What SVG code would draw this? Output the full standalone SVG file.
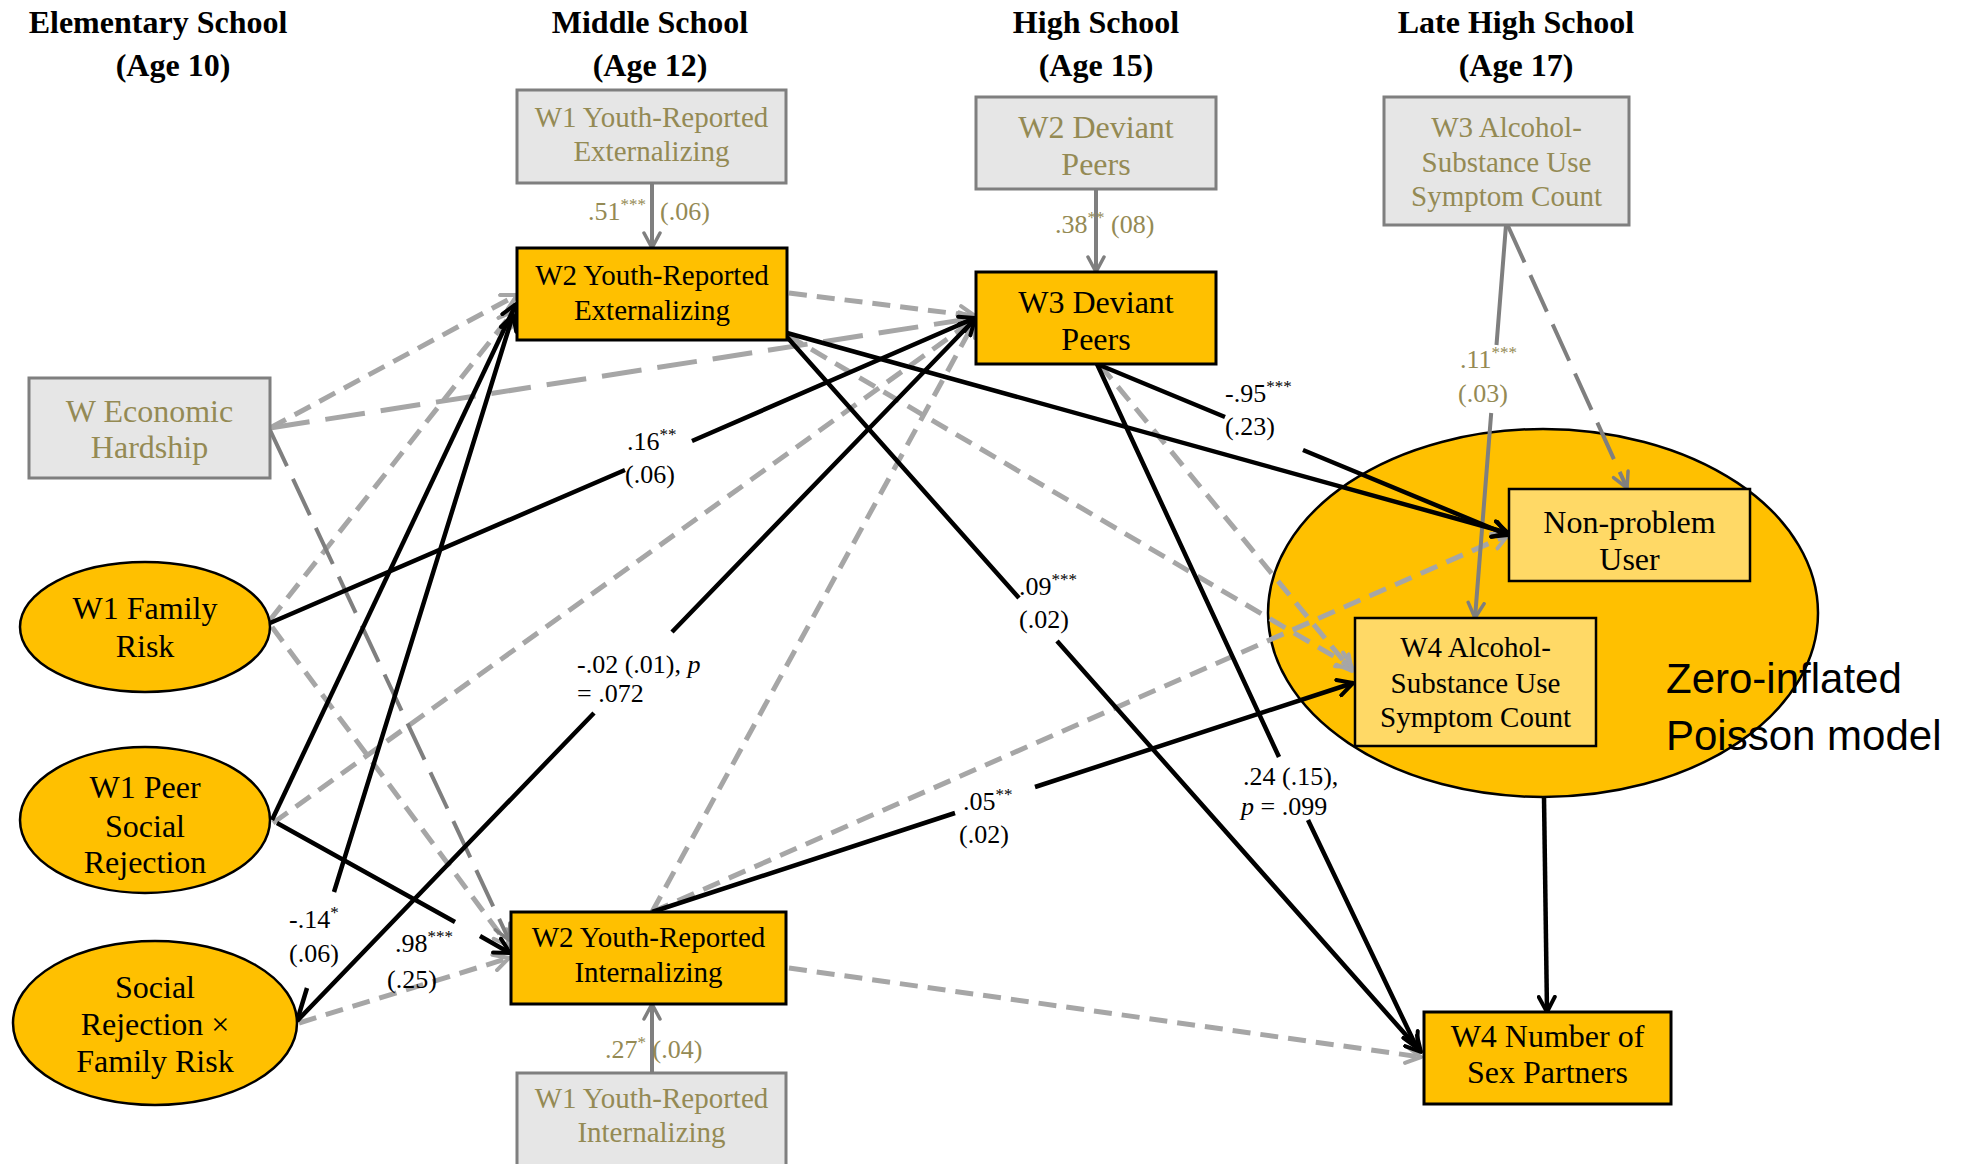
<svg xmlns="http://www.w3.org/2000/svg" width="1967" height="1164" viewBox="0 0 1967 1164">
  <style>
    .hdr{font-family:"Liberation Serif","Times New Roman",serif;font-weight:bold;font-size:32px;text-anchor:middle;fill:#000}
    .nt{font-family:"Liberation Serif","Times New Roman",serif;font-size:29px;text-anchor:middle;fill:#000}
    .nt.lg{font-size:32px}
    .nt.olive{fill:#948a54}
    .lb{font-family:"Liberation Serif","Times New Roman",serif;font-size:26px;fill:#000}
    .lb.olive{fill:#948a54}
    .sup{font-size:17px}
    .zip{font-family:"Liberation Sans",Arial,sans-serif;font-size:42px;fill:#000}
    .box-o{fill:#ffc000;stroke:#000;stroke-width:3}
    .box-g{fill:#e6e6e6;stroke:#7f7f7f;stroke-width:3}
    .box-y{fill:#ffd966;stroke:#000;stroke-width:2.5}
    .ell{fill:#ffc000;stroke:#000;stroke-width:2.5}
    .dl{fill:none;stroke:#a6a6a6;stroke-width:5;stroke-dasharray:18 10}
    .ll{fill:none;stroke:#a6a6a6;stroke-width:5;stroke-dasharray:40 16}
    .ld{fill:none;stroke:#7f7f7f;stroke-width:4;stroke-dasharray:40 14}
    .gs{fill:none;stroke:#7f7f7f;stroke-width:4}
    .bk{fill:none;stroke:#000;stroke-width:4.5}
  </style>
  <defs>
    <marker id="ah-k" viewBox="0 0 20 20" refX="17" refY="10" markerWidth="20" markerHeight="20" markerUnits="userSpaceOnUse" orient="auto">
      <path d="M2,2 L17,10 L2,18" fill="none" stroke="#000" stroke-width="4" stroke-linecap="round" stroke-linejoin="round"/>
    </marker>
    <marker id="ah-g" viewBox="0 0 20 20" refX="17" refY="10" markerWidth="20" markerHeight="20" markerUnits="userSpaceOnUse" orient="auto">
      <path d="M2,2 L17,10 L2,18" fill="none" stroke="#7f7f7f" stroke-width="3.5" stroke-linecap="round" stroke-linejoin="round"/>
    </marker>
    <marker id="ah-l" viewBox="0 0 20 20" refX="17" refY="10" markerWidth="20" markerHeight="20" markerUnits="userSpaceOnUse" orient="auto">
      <path d="M2,2 L17,10 L2,18" fill="none" stroke="#a6a6a6" stroke-width="4" stroke-linecap="round" stroke-linejoin="round"/>
    </marker>
  </defs>

  <rect width="1967" height="1164" fill="#fff"/>

  <!-- wave headers -->
  <g id="headers">
    <text class="hdr" x="158" y="33">Elementary School</text>
    <text class="hdr" x="173" y="76">(Age 10)</text>
    <text class="hdr" x="650" y="33">Middle School</text>
    <text class="hdr" x="650" y="76">(Age 12)</text>
    <text class="hdr" x="1096" y="33">High School</text>
    <text class="hdr" x="1096" y="76">(Age 15)</text>
    <text class="hdr" x="1516" y="33">Late High School</text>
    <text class="hdr" x="1516" y="76">(Age 17)</text>
  </g>

  <!-- zero-inflated Poisson container (drawn beneath the paths) -->
  <g id="n-zip">
    <ellipse class="ell" cx="1543" cy="613" rx="275" ry="184"/>
    <text class="zip" x="1666" y="693">Zero-inflated</text>
    <text class="zip" x="1666" y="750">Poisson model</text>
  </g>

  <g id="connectors">
    <!-- non-significant paths -->
    <path class="dl" d="M270,428 L517,295" marker-end="url(#ah-l)"/>
    <path class="dl" d="M270,620 L514,311" marker-end="url(#ah-l)"/>
    <path class="dl" d="M272,627 L509,946" marker-end="url(#ah-l)"/>
    <path class="dl" d="M273,823 L975,319" marker-end="url(#ah-l)"/>
    <path class="dl" d="M299,1023 L509,958" marker-end="url(#ah-l)"/>
    <path class="dl" d="M789,293 L975,316" marker-end="url(#ah-l)"/>
    <path class="dl" d="M787,335 L1352,667" marker-end="url(#ah-l)"/>
    <path class="dl" d="M1100,365 L1352,671" marker-end="url(#ah-l)"/>
    <path class="dl" d="M652,912 L975,321" marker-end="url(#ah-l)"/>
    <path class="dl" d="M652,912 L1508,535" marker-end="url(#ah-l)"/>
    <path class="dl" d="M789,968 L1421,1057" marker-end="url(#ah-l)"/>
    <path class="ll" d="M270,428 L975,318" marker-end="url(#ah-l)"/>
    <!-- covariate paths -->
    <path class="ld" d="M270,430 L509,940" marker-end="url(#ah-g)"/>
    <path class="ld" d="M1508,226 L1627,488" marker-end="url(#ah-g)"/>
    <!-- stability paths -->
    <path class="gs" d="M652,183 L652,248" marker-end="url(#ah-g)"/>
    <path class="gs" d="M1096,189 L1096,272" marker-end="url(#ah-g)"/>
    <path class="gs" d="M652,1073 L652,1004" marker-end="url(#ah-g)"/>
    <path class="gs" stroke-width="3.5" d="M1506,225 L1496.5,345 M1491.2,413 L1475,618" marker-end="url(#ah-g)"/>
    <!-- significant paths -->
    <path class="bk" d="M272,820 L516,304" marker-end="url(#ah-k)"/>
    <path class="bk" d="M297,1021 L307,988 M334,892 L513,315" marker-end="url(#ah-k)"/>
    <path class="bk" d="M270,623 L625,470 M692,441 L975,318" marker-end="url(#ah-k)"/>
    <path class="bk" d="M297,1021 L594,713 M672,632 L975,319" marker-end="url(#ah-k)"/>
    <path class="bk" d="M277,823 L455,922 M480,936 L510,953" marker-end="url(#ah-k)"/>
    <path class="bk" stroke-width="5" d="M787,333 L1508,533" marker-end="url(#ah-k)"/>
    <path class="bk" stroke-width="5" d="M1097,364 L1225,417 M1303,450 L1508,535" marker-end="url(#ah-k)"/>
    <path class="bk" d="M787,337 L1019,598 M1057,641 L1421,1052" marker-end="url(#ah-k)"/>
    <path class="bk" d="M1097,364 L1279,757 M1308,820 L1417,1048" marker-end="url(#ah-k)"/>
    <path class="bk" stroke-width="5" d="M652,912 L955,813 M1035,787 L1353,683" marker-end="url(#ah-k)"/>
    <path class="bk" stroke-width="3" d="M1544,797 L1547,1012" marker-end="url(#ah-k)"/>
  </g>

  <!-- nodes -->
  <g id="n-w1ext">
    <rect class="box-g" x="517" y="90" width="269" height="93"/>
    <text class="nt olive" x="651.5" y="127">W1 Youth-Reported</text>
    <text class="nt olive" x="651.5" y="161">Externalizing</text>
  </g>
  <g id="n-w2ext">
    <rect class="box-o" x="517" y="248" width="270" height="92"/>
    <text class="nt" x="652" y="285">W2 Youth-Reported</text>
    <text class="nt" x="652" y="320">Externalizing</text>
  </g>
  <g id="n-w2dev">
    <rect class="box-g" x="976" y="97" width="240" height="92"/>
    <text class="nt lg olive" x="1096" y="138">W2 Deviant</text>
    <text class="nt lg olive" x="1096" y="175">Peers</text>
  </g>
  <g id="n-w3dev">
    <rect class="box-o" x="976" y="272" width="240" height="92"/>
    <text class="nt lg" x="1096" y="313">W3 Deviant</text>
    <text class="nt lg" x="1096" y="350">Peers</text>
  </g>
  <g id="n-w3alc">
    <rect class="box-g" x="1384" y="97" width="245" height="128"/>
    <text class="nt olive" x="1506.5" y="137">W3 Alcohol-</text>
    <text class="nt olive" x="1506.5" y="172">Substance Use</text>
    <text class="nt olive" x="1506.5" y="206">Symptom Count</text>
  </g>
  <g id="n-eco">
    <rect class="box-g" x="29" y="378" width="241" height="100"/>
    <text class="nt lg olive" x="149.5" y="422">W Economic</text>
    <text class="nt lg olive" x="149.5" y="458">Hardship</text>
  </g>
  <g id="n-w1fam">
    <ellipse class="ell" cx="145" cy="627" rx="125" ry="65"/>
    <text class="nt lg" x="145" y="619">W1 Family</text>
    <text class="nt lg" x="145" y="657">Risk</text>
  </g>
  <g id="n-w1peer">
    <ellipse class="ell" cx="145" cy="820" rx="125" ry="73"/>
    <text class="nt lg" x="145" y="798">W1 Peer</text>
    <text class="nt lg" x="145" y="837">Social</text>
    <text class="nt lg" x="145" y="873">Rejection</text>
  </g>
  <g id="n-srxfr">
    <ellipse class="ell" cx="155" cy="1023" rx="142" ry="82"/>
    <text class="nt lg" x="155" y="998">Social</text>
    <text class="nt lg" x="155" y="1035">Rejection ×</text>
    <text class="nt lg" x="155" y="1072">Family Risk</text>
  </g>
  <g id="n-w2int">
    <rect class="box-o" x="511" y="912" width="275" height="92"/>
    <text class="nt" x="648.5" y="947">W2 Youth-Reported</text>
    <text class="nt" x="648.5" y="982">Internalizing</text>
  </g>
  <g id="n-w1int">
    <rect class="box-g" x="517" y="1073" width="269" height="95"/>
    <text class="nt olive" x="651.5" y="1108">W1 Youth-Reported</text>
    <text class="nt olive" x="651.5" y="1142">Internalizing</text>
  </g>
  <g id="n-nonprob">
    <rect class="box-y" x="1509" y="489" width="241" height="92"/>
    <text class="nt lg" x="1629.5" y="533">Non-problem</text>
    <text class="nt lg" x="1629.5" y="570">User</text>
  </g>
  <g id="n-w4alc">
    <rect class="box-y" x="1355" y="618" width="241" height="128"/>
    <text class="nt" x="1475.5" y="657">W4 Alcohol-</text>
    <text class="nt" x="1475.5" y="693">Substance Use</text>
    <text class="nt" x="1475.5" y="727">Symptom Count</text>
  </g>
  <g id="n-w4sex">
    <rect class="box-o" x="1424" y="1012" width="247" height="92"/>
    <text class="nt lg" x="1547.5" y="1047">W4 Number of</text>
    <text class="nt lg" x="1547.5" y="1083">Sex Partners</text>
  </g>

  <!-- path coefficients -->
  <g id="labels">
    <text class="lb olive" x="646" y="220" text-anchor="end">.51<tspan class="sup" dy="-10">***</tspan></text>
    <text class="lb olive" x="660" y="220">(.06)</text>
    <text class="lb olive" x="1055" y="233">.38<tspan class="sup" dy="-10">**</tspan><tspan dy="10"> (08)</tspan></text>
    <text class="lb olive" x="605" y="1058">.27<tspan class="sup" dy="-10">*</tspan><tspan dy="10"> (.04)</tspan></text>
    <text class="lb olive" x="1460" y="368">.11<tspan class="sup" dy="-10">***</tspan></text>
    <text class="lb olive" x="1458" y="402">(.03)</text>

    <text class="lb" x="627" y="450">.16<tspan class="sup" dy="-10">**</tspan></text>
    <text class="lb" x="625" y="483">(.06)</text>
    <text class="lb" x="577" y="673">-.02 (.01), <tspan font-style="italic">p</tspan></text>
    <text class="lb" x="577" y="702">= .072</text>
    <text class="lb" x="289" y="928">-.14<tspan class="sup" dy="-10">*</tspan></text>
    <text class="lb" x="289" y="962">(.06)</text>
    <text class="lb" x="395" y="952">.98<tspan class="sup" dy="-10">***</tspan></text>
    <text class="lb" x="387" y="988">(.25)</text>
    <text class="lb" x="1019" y="595">.09<tspan class="sup" dy="-10">***</tspan></text>
    <text class="lb" x="1019" y="628">(.02)</text>
    <text class="lb" x="1225" y="402">-.95<tspan class="sup" dy="-10">***</tspan></text>
    <text class="lb" x="1225" y="435">(.23)</text>
    <text class="lb" x="1243" y="785">.24 (.15),</text>
    <text class="lb" x="1241" y="815"><tspan font-style="italic">p</tspan> = .099</text>
    <text class="lb" x="963" y="810">.05<tspan class="sup" dy="-10">**</tspan></text>
    <text class="lb" x="959" y="843">(.02)</text>
  </g>
</svg>
